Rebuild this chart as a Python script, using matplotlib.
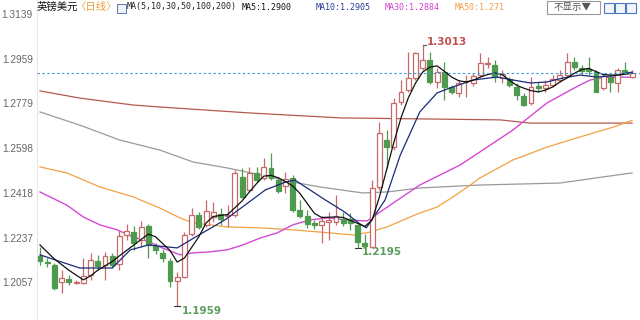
import matplotlib
matplotlib.use("Agg")
import matplotlib.pyplot as plt
from matplotlib.patches import Rectangle
import numpy as np

# ---------------- data ----------------
opens = [1.2163, 1.2138, 1.2126, 1.2058, 1.2070, 1.2054, 1.2054, 1.2086, 1.2142, 1.2126,
         1.2163, 1.2130, 1.2247, 1.2260, 1.2227, 1.2284, 1.2203, 1.2175, 1.2142, 1.2062,
         1.2078, 1.2251, 1.2328, 1.2288, 1.2320, 1.2332, 1.2324, 1.2328, 1.2482, 1.2429,
         1.2498, 1.2477, 1.2518, 1.2469, 1.2445, 1.2477, 1.2348, 1.2324, 1.2296, 1.2288,
         1.2300, 1.2300, 1.2312, 1.2312, 1.2288, 1.2215, 1.2199, 1.2441, 1.2631, 1.2603,
         1.2784, 1.2833, 1.2881, 1.2921, 1.2954, 1.2865, 1.2905, 1.2845, 1.2821, 1.2865,
         1.2861, 1.2893, 1.2938, 1.2934, 1.2881, 1.2877, 1.2845, 1.2809, 1.2780, 1.2849,
         1.2841, 1.2853, 1.2873, 1.2893, 1.2946, 1.2921, 1.2917, 1.2905, 1.2841, 1.2885,
         1.2861, 1.2913, 1.2885]
highs = [1.2199, 1.2154, 1.2134, 1.2106, 1.2086, 1.2066, 1.2154, 1.2175, 1.2167, 1.2179,
         1.2175, 1.2268, 1.2292, 1.2284, 1.2304, 1.2292, 1.2215, 1.2191, 1.2154, 1.2098,
         1.2259, 1.2356, 1.2340, 1.2389, 1.2381, 1.2356, 1.2369, 1.2510, 1.2518, 1.2522,
         1.2522, 1.2558, 1.2578, 1.2482, 1.2502, 1.2490, 1.2389, 1.2348, 1.2308, 1.2324,
         1.2340, 1.2409, 1.2340, 1.2336, 1.2292, 1.2251, 1.2469, 1.2703, 1.2671, 1.2800,
         1.2873, 1.2986, 1.2986, 1.3013, 1.2986, 1.2921, 1.2946, 1.2853, 1.2873, 1.2893,
         1.2901, 1.2982, 1.2966, 1.2954, 1.2913, 1.2885, 1.2861, 1.2821, 1.2885, 1.2865,
         1.2873, 1.2893, 1.2913, 1.2982, 1.2966, 1.2934, 1.2966, 1.2913, 1.2901, 1.2893,
         1.2921, 1.2946, 1.2913]
lows = [1.2126, 1.2118, 1.2025, 1.2013, 1.2045, 1.2050, 1.2050, 1.2066, 1.2106, 1.2066,
        1.2114, 1.2106, 1.2227, 1.2187, 1.2199, 1.2154, 1.2171, 1.2138, 1.2037, 1.1959,
        1.2074, 1.2243, 1.2272, 1.2280, 1.2300, 1.2288, 1.2280, 1.2320, 1.2397, 1.2421,
        1.2461, 1.2469, 1.2469, 1.2417, 1.2417, 1.2340, 1.2316, 1.2276, 1.2272, 1.2215,
        1.2227, 1.2288, 1.2284, 1.2268, 1.2195, 1.2199, 1.2195, 1.2429, 1.2518, 1.2590,
        1.2772, 1.2825, 1.2873, 1.2913, 1.2857, 1.2841, 1.2792, 1.2817, 1.2805, 1.2805,
        1.2849, 1.2885, 1.2921, 1.2865, 1.2861, 1.2845, 1.2792, 1.2768, 1.2772, 1.2825,
        1.2825, 1.2845, 1.2865, 1.2885, 1.2913, 1.2897, 1.2893, 1.2825, 1.2833, 1.2825,
        1.2825, 1.2901, 1.2881]
closes = [1.2143, 1.2134, 1.2033, 1.2074, 1.2058, 1.2058, 1.2082, 1.2146, 1.2122, 1.2163,
          1.2126, 1.2243, 1.2263, 1.2215, 1.2280, 1.2207, 1.2187, 1.2154, 1.2062, 1.2078,
          1.2247, 1.2328, 1.2280, 1.2344, 1.2340, 1.2312, 1.2328, 1.2498, 1.2401, 1.2498,
          1.2469, 1.2522, 1.2477, 1.2425, 1.2473, 1.2348, 1.2324, 1.2292, 1.2288, 1.2304,
          1.2308, 1.2324, 1.2296, 1.2296, 1.2219, 1.2203, 1.2437, 1.2659, 1.2603, 1.2780,
          1.2825, 1.2881, 1.2982, 1.2954, 1.2865, 1.2905, 1.2845, 1.2825, 1.2861, 1.2869,
          1.2889, 1.2942, 1.2942, 1.2885, 1.2897, 1.2853, 1.2813, 1.2772, 1.2845, 1.2841,
          1.2853, 1.2877, 1.2893, 1.2946, 1.2925, 1.2909, 1.2909, 1.2825, 1.2889, 1.2865,
          1.2913, 1.2905, 1.2900]

ma5_idx = [0, 2, 4, 6, 7, 8, 10, 11, 13, 15, 16, 18, 19, 20, 22, 23, 24, 26, 28, 29, 30, 31,
           32, 33, 34, 35, 36, 37, 38, 39, 41, 42, 44, 45, 46, 47, 48, 49, 50, 51, 52, 53, 54,
           55, 56, 57, 58, 59, 60, 61, 62, 63, 64, 65, 66, 67, 68, 69, 70, 71, 72, 73, 74, 75,
           76, 77, 78, 79, 80, 81, 82]
ma5_val = [1.2207, 1.2150, 1.2105, 1.2066, 1.2082, 1.2105, 1.2140, 1.2163, 1.2207, 1.2251,
           1.2240, 1.2185, 1.2138, 1.2154, 1.2240, 1.2296, 1.2322, 1.2330, 1.2385, 1.2421,
           1.2455, 1.2485, 1.2488, 1.2478, 1.2463, 1.2445, 1.2415, 1.2375, 1.2335, 1.2318,
           1.2320, 1.2318, 1.2294, 1.2282, 1.2308, 1.2400, 1.2510, 1.2620, 1.2720, 1.2800,
           1.2860, 1.2905, 1.2925, 1.2930, 1.2908, 1.2885, 1.2870, 1.2865, 1.2872, 1.2885,
           1.2895, 1.2901, 1.2895, 1.2872, 1.2852, 1.2840, 1.2830, 1.2825, 1.2832, 1.2845,
           1.2865, 1.2881, 1.2900, 1.2915, 1.2920, 1.2907, 1.2895, 1.2893, 1.2893, 1.2896,
           1.2900]

ma10_idx = [0, 3, 5.5, 10, 12.5, 15, 19, 22, 25.6, 28.4, 31.2, 34, 35.3, 37.4, 39.5, 42.2,
            44.3, 45.2, 47.8, 49.9, 52.6, 55, 56.8, 60, 63.3, 65.5, 67.9, 70.2, 72.4, 74.8,
            77.1, 79.4, 82]
ma10_val = [1.2167, 1.2138, 1.2114, 1.2114, 1.2187, 1.2207, 1.2195, 1.2247, 1.2308, 1.2368,
            1.2429, 1.2461, 1.2469, 1.2429, 1.2389, 1.2340, 1.2292, 1.2276, 1.2389, 1.2570,
            1.2744, 1.2821, 1.2841, 1.2873, 1.2885, 1.2873, 1.2861, 1.2865, 1.2881, 1.2893,
            1.2885, 1.2890, 1.2905]

ma30_idx = [0, 3.7, 6, 8.3, 10.7, 12.9, 15.2, 16.6, 19.4, 21.2, 23.5, 25.9, 28.1, 30.5, 32.8,
            35, 37.4, 39.8, 42.5, 45.3, 47.1, 48.5, 52.6, 58.2, 60.9, 65.5, 70.2, 73, 74.8,
            76.2, 78, 80.3, 82]
ma30_val = [1.2421, 1.2368, 1.2320, 1.2288, 1.2268, 1.2239, 1.2219, 1.2199, 1.2167, 1.2175,
            1.2179, 1.2187, 1.2207, 1.2235, 1.2255, 1.2288, 1.2308, 1.2316, 1.2308, 1.2304,
            1.2340, 1.2368, 1.2449, 1.2530, 1.2582, 1.2671, 1.2780, 1.2825, 1.2853, 1.2873,
            1.2883, 1.2885, 1.2884]

ma50_idx = [0, 3.7, 8.3, 12.9, 16.6, 19.4, 21.2, 25.9, 30.5, 35, 38.8, 43.4, 45.7, 48.1, 50.3,
            52.6, 55, 57.2, 59.6, 60.9, 65.5, 70.2, 74.8, 79.4, 82]
ma50_val = [1.2522, 1.2498, 1.2441, 1.2401, 1.2356, 1.2316, 1.2296, 1.2280, 1.2276, 1.2268,
            1.2259, 1.2247, 1.2259, 1.2280, 1.2308, 1.2336, 1.2360, 1.2401, 1.2449, 1.2477,
            1.2550, 1.2602, 1.2643, 1.2683, 1.2710]

ma100_idx = [0, 5.5, 11, 16.6, 21.2, 25.9, 30.5, 35, 38.8, 44.7, 48.1, 52.6, 60.9, 72, 82]
ma100_val = [1.2744, 1.2691, 1.2631, 1.2590, 1.2542, 1.2518, 1.2490, 1.2461, 1.2441, 1.2417,
             1.2421, 1.2437, 1.2449, 1.2457, 1.2498]

ma200_idx = [0, 5.5, 12.9, 16.6, 29, 41.6, 52.6, 63.7, 67.9, 82]
ma200_val = [1.2829, 1.2800, 1.2772, 1.2764, 1.2740, 1.2720, 1.2716, 1.2712, 1.2699, 1.2699]

ytick_vals = [1.2057, 1.2237, 1.2418, 1.2598, 1.2779, 1.2959, 1.3139]
ytick_labels = ["1.2057", "1.2237", "1.2418", "1.2598", "1.2779", "1.2959", "1.3139"]
last_price = 1.2900
high_idx, high_label = 53, "1.3013"
low_marks = [(19, "1.1959"), (44, "1.2195")]

# ---------------- figure ----------------
W, H = 640, 320
fig = plt.figure(figsize=(6.4, 3.2), dpi=100)
fig.patch.set_facecolor("white")
ax = fig.add_axes([37 / W, 0, (W - 37) / W, 1])
ax.set_facecolor("white")

n = len(opens)
xs = np.arange(n)
UP = "#c76a6a"
DN = "#4e9a4e"
bw = 0.68

# moving averages (drawn beneath candles)
ax.plot(ma200_idx, ma200_val, color="#b35a50", lw=0.9, zorder=2)
ax.plot(ma100_idx, ma100_val, color="#9a9a9a", lw=0.9, zorder=2)
ax.plot(ma50_idx, ma50_val, color="#f0a245", lw=0.9, zorder=2)
ax.plot(ma30_idx, ma30_val, color="#d449d4", lw=1.0, zorder=2)

for i in range(n):
    o, h, l, c = opens[i], highs[i], lows[i], closes[i]
    up = c >= o
    col = UP if up else DN
    ax.vlines(xs[i], l, h, color=col, lw=0.9, zorder=3)
    bot = min(o, c)
    hgt = max(abs(c - o), 0.00025)
    ax.add_patch(Rectangle((xs[i] - bw / 2, bot), bw, hgt,
                           facecolor="white" if up else DN, edgecolor=col,
                           lw=0.9, zorder=4))

ax.plot(ma10_idx, ma10_val, color="#1c2a78", lw=0.9, zorder=5)
ax.plot(ma5_idx, ma5_val, color="#111111", lw=0.9, zorder=5)

ax.axhline(last_price, color="#3d9ee0", lw=0.8, ls=(0, (2.2, 2.2)), zorder=6)

# high / low annotations
ax.plot([high_idx, high_idx + 0.5], [highs[high_idx]] * 2, color="#555555", lw=0.8, zorder=6)
ax.text(high_idx + 0.6, highs[high_idx] + 0.0015, high_label, color="#c0504d",
        fontsize=7.5, fontweight="bold", family="DejaVu Sans", ha="left", va="center")
for idx, lab in low_marks:
    ax.plot([idx - 0.4, idx + 0.4], [lows[idx]] * 2, color="#333333", lw=0.8, zorder=6)
    ax.text(idx + 0.6, lows[idx] - 0.0017, lab, color="#5c9e5c",
            fontsize=7.5, fontweight="bold", family="DejaVu Sans", ha="left", va="center")

ax.set_xlim(-0.415, 83.1)
ax.set_ylim(1.1904, 1.3196)
ax.set_yticks(ytick_vals)
ax.set_yticklabels(ytick_labels, fontsize=7.3, color="#666666", family="Liberation Sans")
ax.tick_params(axis="y", length=0, pad=3)
ax.set_xticks([])
for s in ["top", "right", "bottom"]:
    ax.spines[s].set_visible(False)
ax.spines["left"].set_color("#e6e6e6")
ax.spines["left"].set_linewidth(0.8)

# ---------------- header ----------------
def px(x, y):
    return x / W, 1 - y / H

cjk = ["Noto Sans CJK SC", "DejaVu Sans"]
fig.text(*px(37, 7), "英镑美元", fontsize=7.5, family=cjk, color="#111111", va="center")
fig.text(*px(76, 7), "〈日线〉", fontsize=7.5, family=cjk, color="#e8a040", va="center")
fig.patches.append(Rectangle(px(117, 13), 9 / W, 9 / H, transform=fig.transFigure,
                             facecolor="#eef3fb", edgecolor="#5a78b0", lw=0.7))
mono = "DejaVu Sans Mono"
fig.text(*px(127, 7), "MA(5,10,30,50,100,200)", fontsize=6.0, family=mono, color="#222222", va="center")
fig.text(*px(242, 7), "MA5:1.2900", fontsize=6.0, family=mono, color="#111111", va="center")
fig.text(*px(316, 7), "MA10:1.2905", fontsize=6.0, family=mono, color="#2a3a9a", va="center")
fig.text(*px(385, 7), "MA30:1.2884", fontsize=6.0, family=mono, color="#d040d0", va="center")
fig.text(*px(455, 7), "MA50:1.271", fontsize=6.0, family=mono, color="#f0a040", va="center")

fig.patches.append(Rectangle(px(547, 14), 53 / W, 13 / H, transform=fig.transFigure,
                             facecolor="white", edgecolor="#9a9a9a", lw=0.8))
fig.text(*px(573, 7.5), "不显示▼", fontsize=6.8, family=cjk, color="#555555",
         va="center", ha="center")
for bx in [604, 615, 626]:
    fig.patches.append(Rectangle(px(bx, 13), 10 / W, 10 / H, transform=fig.transFigure,
                                 facecolor="#f2f6fc", edgecolor="#4a78c0", lw=0.8))

fig.savefig("out.png", dpi=100, facecolor="white")
